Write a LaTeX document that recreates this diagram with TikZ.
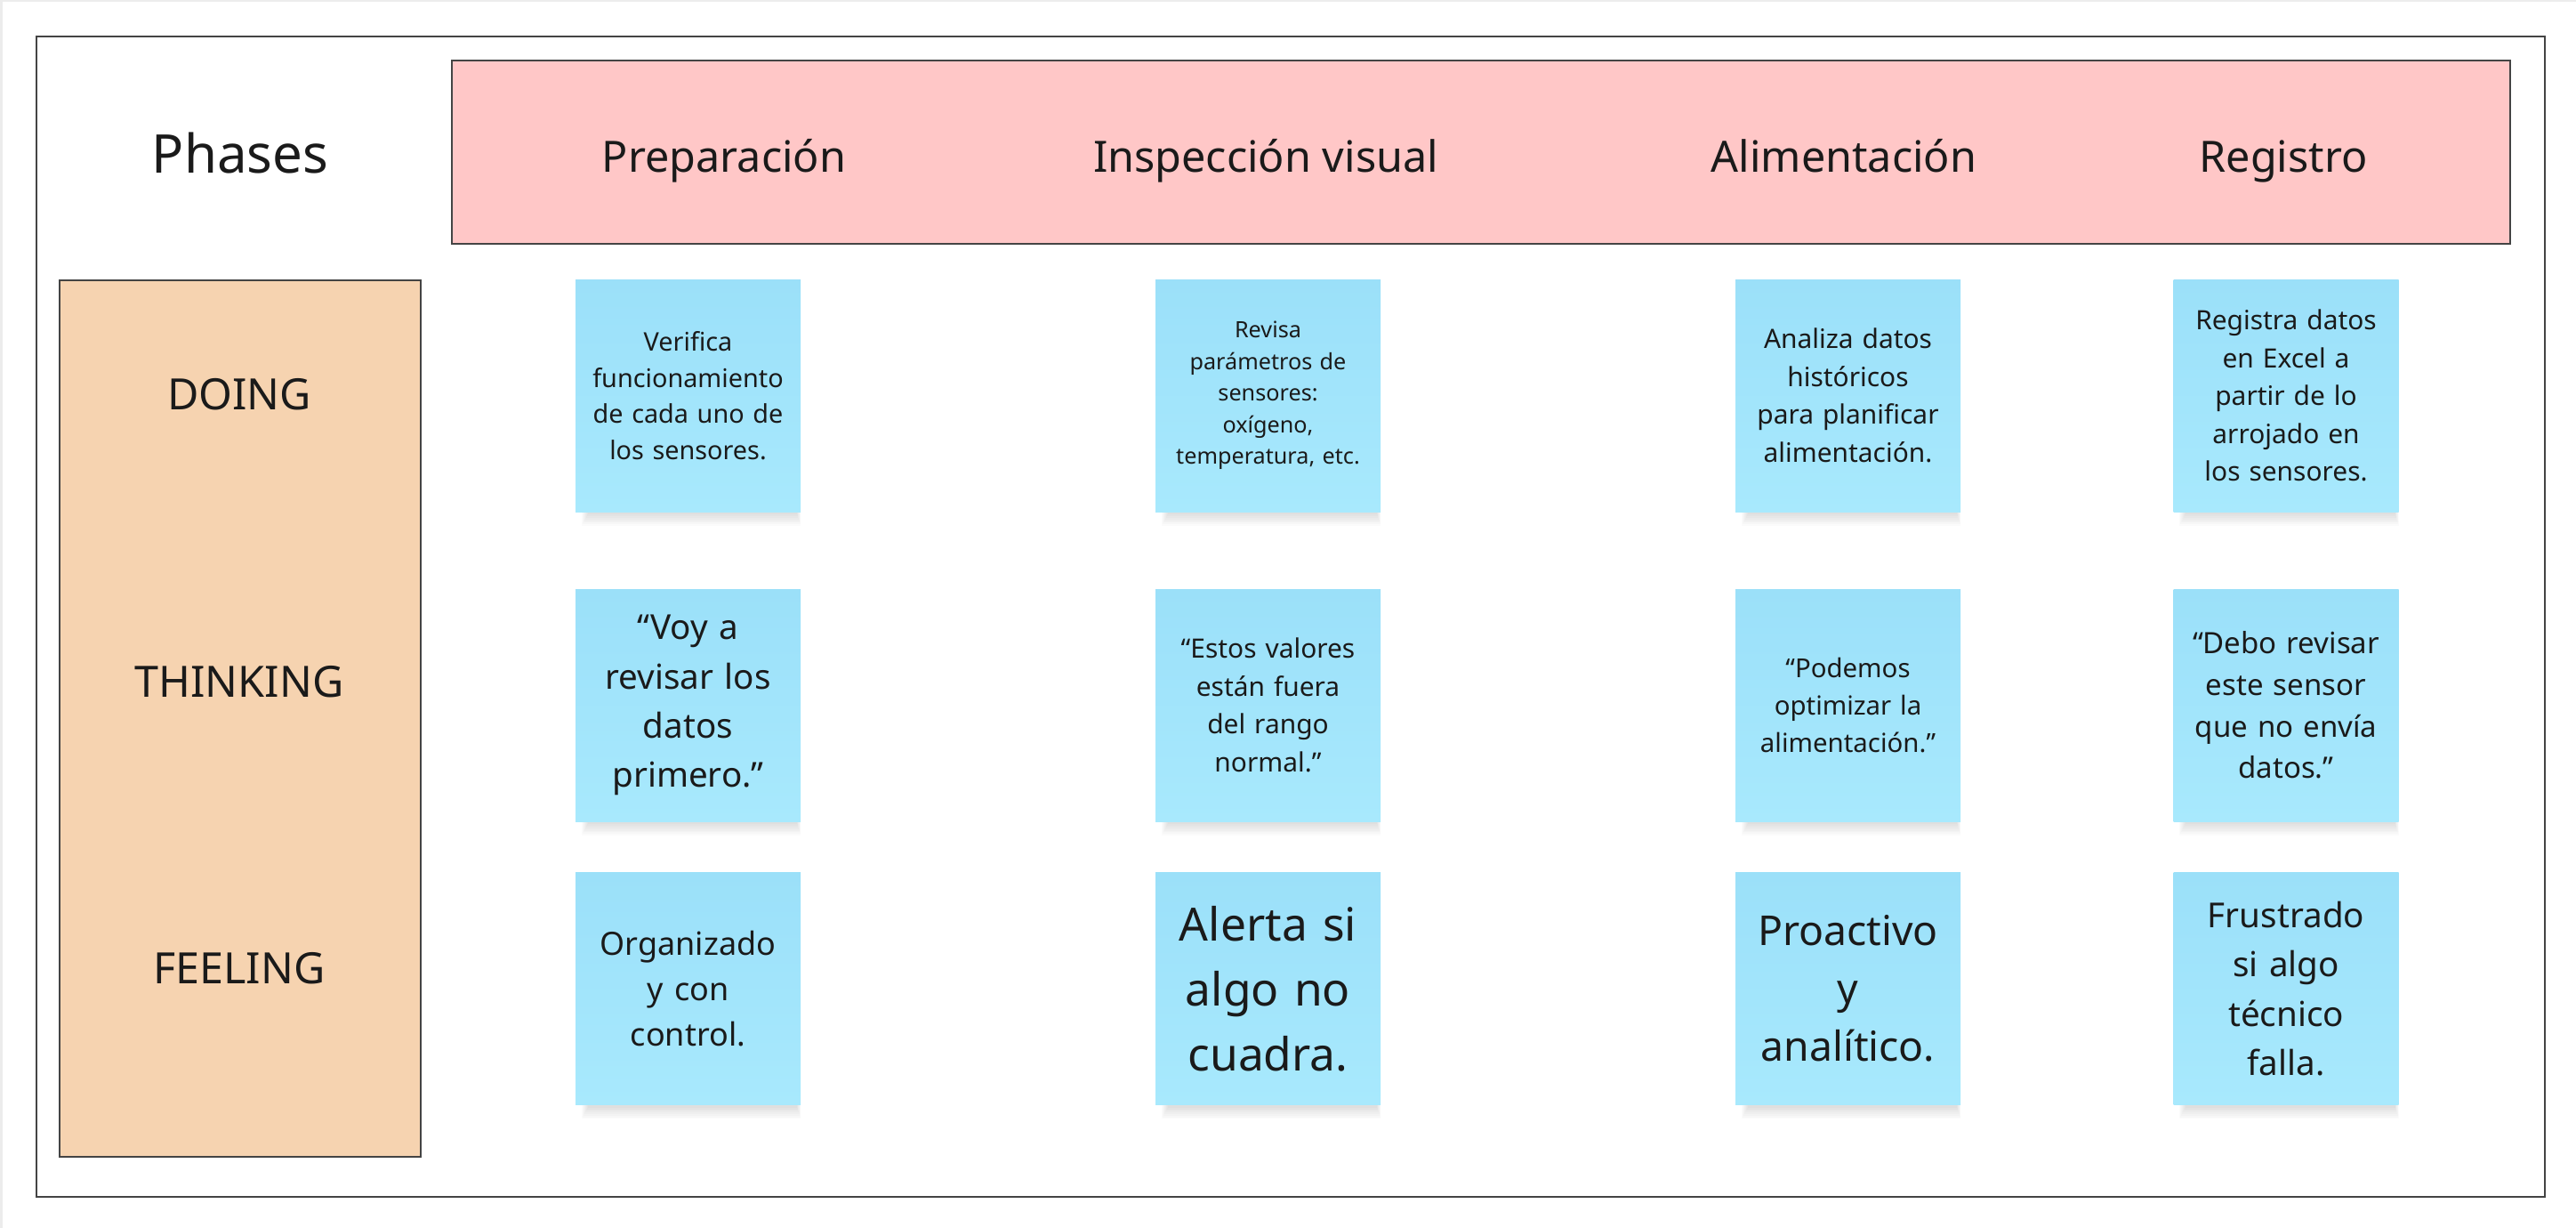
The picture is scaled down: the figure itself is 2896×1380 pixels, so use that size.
\documentclass[tikz,border=0pt]{standalone}
\usepackage{fontspec}
\setmainfont{Noto Sans}
\definecolor{framegray}{HTML}{444444}
\definecolor{pageedge}{HTML}{ECECEC}
\definecolor{phasepink}{HTML}{FFC7C7}
\definecolor{rowpeach}{HTML}{F6D3B0}
\definecolor{notetop}{HTML}{9BE0F9}
\definecolor{notebot}{HTML}{A8E9FD}
\definecolor{ink}{HTML}{1A1A1A}
\newcommand\txtsize[2]{\fontsize{#1}{#2}\selectfont}
\begin{document}
\begin{tikzpicture}[x=1pt,y=-1pt,
  frameline/.style={draw=framegray, line width=1.8pt, inner sep=0pt},
  lbl/.style={anchor=base, text=ink, inner sep=0pt},
  sticky/.style={minimum width=253pt, minimum height=261pt, inner sep=0pt,
    text width=244pt, align=center, text=ink,
    top color=notetop, bottom color=notebot, draw=none},
]
\useasboundingbox (0,0) rectangle (2896,1380);
\fill[white] (0,0) rectangle (2896,1380);
\draw[pageedge, line width=5pt] (0,1380) -- (0,0) -- (2896,0);

% board, phase bar and row bar
\node[frameline, fill=white, minimum width=2820pt, minimum height=1304pt] (board) at (1451,693) {};
\node[frameline, fill=phasepink, minimum width=2314pt, minimum height=206pt] (phasebar) at (1665,171) {};
\node[frameline, fill=rowpeach, minimum width=406pt, minimum height=985pt] (rowbar) at (270,807.5) {};

% titles
\node[lbl, font=\txtsize{60}{72}] (phases) at (270,195) {Phases};
\node[lbl, font=\txtsize{48.5}{58}] (hprep) at (814,194) {Preparación};
\node[lbl, font=\txtsize{48.5}{58}] (hinsp) at (1423,194) {Inspección visual};
\node[lbl, font=\txtsize{48.5}{58}] (halim) at (2073,194) {Alimentación};
\node[lbl, font=\txtsize{48.5}{58}] (hreg) at (2567,194) {Registro};

\node[lbl, font=\txtsize{48.5}{58}] (rdoing) at (269,460) {DOING};
\node[lbl, font=\txtsize{48.5}{58}] (rthink) at (269,783) {THINKING};
\node[lbl, font=\txtsize{48.5}{58}] (rfeel) at (269,1105) {FEELING};

% soft shadows under the sticky notes
\foreach \cx in {773.5,1425.5,2077.5,2570}
  \foreach \cy in {444.5,792.5,1111}
    \foreach \k in {1,...,8}
      \fill[black, opacity=0.014]
        (\cx-112-\k, \cy+100) rectangle (\cx+122+0.6*\k, \cy+132+1.8*\k);

% sticky notes
\node[sticky, font=\txtsize{28.8}{40.6}] (n11) at (773.5,444.5)
  {Verifica\\funcionamiento\\de cada uno de\\los sensores.};
\node[sticky, font=\txtsize{25.2}{35.5}] (n12) at (1425.5,444.5)
  {Revisa\\parámetros de\\sensores:\\oxígeno,\\temperatura, etc.};
\node[sticky, font=\txtsize{29.9}{42.6}] (n13) at (2077.5,444.5)
  {Analiza datos\\históricos\\para planificar\\alimentación.};
\node[sticky, font=\txtsize{29.9}{42.6}] (n14) at (2570,444.5)
  {Registra datos\\en Excel a\\partir de lo\\arrojado en\\los sensores.};

\node[sticky, font=\txtsize{38.6}{55.3}] (n21) at (773.5,792.5)
  {“Voy a\\revisar los\\datos\\primero.”};
\node[sticky, font=\txtsize{29.9}{42.6}] (n22) at (1425.5,792.5)
  {“Estos valores\\están fuera\\del rango\\normal.”};
\node[sticky, font=\txtsize{29.4}{42.1}] (n23) at (2077.5,792.5)
  {“Podemos\\optimizar la\\alimentación.”};
\node[sticky, font=\txtsize{33}{46.7}] (n24) at (2570,792.5)
  {“Debo revisar\\este sensor\\que no envía\\datos.”};

\node[sticky, font=\txtsize{36}{50.8}] (n31) at (773.5,1111)
  {Organizado\\y con\\control.};
\node[sticky, font=\txtsize{51.5}{73}] (n32) at (1425.5,1111)
  {Alerta si\\algo no\\cuadra.};
\node[sticky, font=\txtsize{46.3}{65}] (n33) at (2077.5,1111)
  {Proactivo\\y\\analítico.};
\node[sticky, font=\txtsize{38.6}{55.2}] (n34) at (2570,1111)
  {Frustrado\\si algo\\técnico\\falla.};
\end{tikzpicture}
\end{document}
